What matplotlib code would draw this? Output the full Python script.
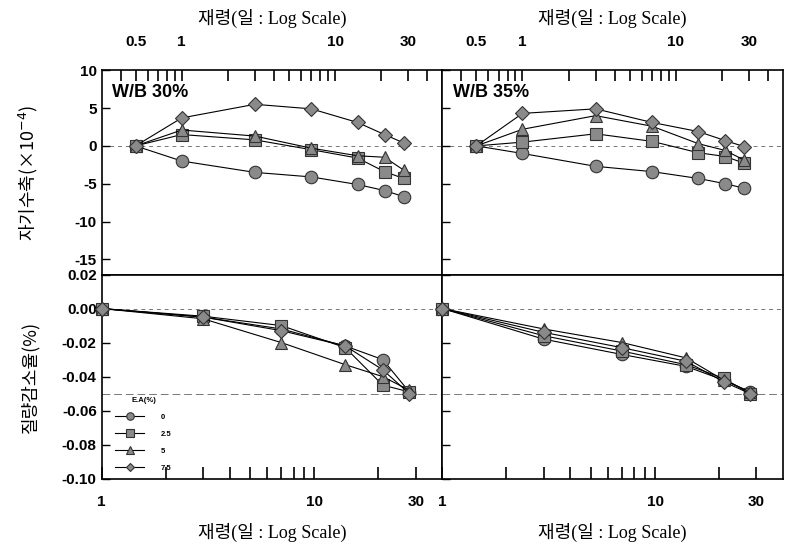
import matplotlib
matplotlib.use("Agg")
import matplotlib.pyplot as plt
from matplotlib.ticker import FixedLocator, NullFormatter, FixedFormatter

plt.rcParams['font.family'] = ['Liberation Sans', 'Noto Sans CJK KR', 'DejaVu Sans']
plt.rcParams['axes.unicode_minus'] = False

# ages (days)
age_shr = [0.5, 1, 3, 7, 14, 21, 28]
age_mass = [1, 3, 7, 14, 21, 28]

ea_labels = ["0", "2.5", "5", "7.5"]
markers = ["o", "s", "^", "D"]

# autogenous shrinkage (x10^-4)
shr_30 = [
    [0, -2.0, -3.5, -4.1, -5.1, -5.9, -6.7],
    [0, 1.5, 0.8, -0.5, -1.6, -3.4, -4.3],
    [0, 2.1, 1.3, -0.3, -1.3, -1.5, -3.2],
    [0, 3.7, 5.5, 4.9, 3.1, 1.5, 0.4],
]
shr_35 = [
    [0, -1.0, -2.7, -3.4, -4.3, -5.0, -5.6],
    [0, 0.5, 1.6, 0.6, -0.9, -1.4, -2.3],
    [0, 2.2, 4.0, 2.6, 0.3, -0.6, -1.9],
    [0, 4.3, 4.9, 3.1, 1.9, 0.7, -0.1],
]

# mass loss (%)
mass_30 = [
    [0, -0.005, -0.012, -0.022, -0.030, -0.049],
    [0, -0.0045, -0.010, -0.023, -0.045, -0.049],
    [0, -0.006, -0.020, -0.033, -0.040, -0.048],
    [0, -0.005, -0.013, -0.022, -0.036, -0.050],
]
mass_35 = [
    [0, -0.018, -0.027, -0.034, -0.042, -0.049],
    [0, -0.016, -0.025, -0.033, -0.041, -0.050],
    [0, -0.012, -0.020, -0.029, -0.042, -0.049],
    [0, -0.014, -0.023, -0.031, -0.043, -0.050],
]

fig = plt.figure(figsize=(7.87, 5.49), dpi=100)
gs = fig.add_gridspec(2, 2, left=0.129, right=0.995, top=0.872, bottom=0.128,
                      hspace=0, wspace=0)

face = "#8a8a8a"
xlab_font = ["Liberation Serif", "Noto Sans CJK KR"]


def draw_series(ax, ages, data):
    for vals, m, lab in zip(data, markers, ea_labels):
        ax.plot(ages, vals, marker=m, color="black", lw=0.8, markersize=9 if m != "D" else 7.5,
                markerfacecolor=face, markeredgecolor="#333333", markeredgewidth=0.8,
                label=lab, clip_on=False, zorder=3)


for col, (shr, mass, title) in enumerate([(shr_30, mass_30, "W/B 30%"),
                                           (shr_35, mass_35, "W/B 35%")]):
    ax = fig.add_subplot(gs[0, col])
    draw_series(ax, age_shr, shr)
    ax.axhline(0, color="#777777", lw=0.7, ls=(0, (4, 4)), zorder=1)
    ax.set_xscale("log")
    ax.set_xlim(0.3, 50)
    ax.set_ylim(-17, 10)
    ax.xaxis.tick_top()
    ax.xaxis.set_major_locator(FixedLocator([0.5, 1, 10, 30]))
    ax.xaxis.set_major_formatter(FixedFormatter(["0.5", "1", "10", "30"]))
    ax.xaxis.set_minor_locator(FixedLocator([0.4, 0.6, 0.7, 0.8, 0.9, 2, 3, 4, 5, 6, 7, 8, 9, 20, 40]))
    ax.xaxis.set_minor_formatter(NullFormatter())
    ax.tick_params(axis="x", which="both", direction="in", length=8, width=1.2, top=True, bottom=False, pad=15)
    ax.set_yticks([10, 5, 0, -5, -10, -15])
    ax.tick_params(axis="y", direction="in", length=6, width=1.0)
    for t in ax.get_xticklabels() + ax.get_yticklabels():
        t.set_fontsize(11)
        t.set_fontweight("bold")
    ax.text(0.03, 0.89, title, transform=ax.transAxes, fontsize=13, fontweight="bold",
            va="center", ha="left")
    ax.set_xlabel("재령(일 : Log Scale)", family=xlab_font, fontsize=13, labelpad=8)
    ax.xaxis.set_label_position("top")
    if col == 0:
        ax.set_ylabel("자기수축(×10$^{-4}$)", family=["Noto Sans CJK KR", "DejaVu Sans"], fontsize=13, labelpad=16)
    else:
        ax.set_yticklabels([])
    for s in ax.spines.values():
        s.set_linewidth(1.2)

    ax2 = fig.add_subplot(gs[1, col])
    draw_series(ax2, age_mass, mass)
    ax2.axhline(0, color="#777777", lw=0.7, ls=(0, (4, 4)), zorder=1)
    ax2.axhline(-0.05, color="#777777", lw=0.7, ls=(0, (8, 4)), zorder=1)
    ax2.set_xscale("log")
    ax2.set_xlim(1, 40)
    ax2.set_ylim(-0.10, 0.02)
    ax2.xaxis.set_major_locator(FixedLocator([1, 10, 30]))
    ax2.xaxis.set_major_formatter(FixedFormatter(["1", "10", "30"]))
    ax2.xaxis.set_minor_locator(FixedLocator([2, 3, 4, 5, 6, 7, 8, 9, 20]))
    ax2.xaxis.set_minor_formatter(NullFormatter())
    ax2.tick_params(axis="x", which="both", direction="in", length=9, width=1.2, pad=12)
    ax2.set_yticks([0.02, 0.00, -0.02, -0.04, -0.06, -0.08, -0.10])
    ax2.tick_params(axis="y", direction="in", length=6, width=1.0)
    if col == 0:
        ax2.set_yticklabels(["0.02", "0.00", "-0.02", "-0.04", "-0.06", "-0.08", "-0.10"])
        ax2.set_ylabel("질량감소율(%)", family=["Noto Sans CJK KR"], fontsize=13, labelpad=16)
        leg = ax2.legend(loc="lower left", bbox_to_anchor=(0.02, 0.0), frameon=False,
                         title="E.A(%)", fontsize=5.5, title_fontsize=5.5, markerscale=0.6,
                         handlelength=3.8, labelspacing=1.25, handletextpad=2.2)
        leg.get_title().set_fontweight("bold")
        for t in leg.get_texts():
            t.set_fontweight("bold")
    else:
        ax2.set_yticklabels([])
    for t in ax2.get_xticklabels() + ax2.get_yticklabels():
        t.set_fontsize(11)
        t.set_fontweight("bold")
    ax2.set_xlabel("재령(일 : Log Scale)", family=xlab_font, fontsize=13, labelpad=10)
    for s in ax2.spines.values():
        s.set_linewidth(1.2)

fig.align_ylabels()
fig.savefig("out.png", dpi=100)
